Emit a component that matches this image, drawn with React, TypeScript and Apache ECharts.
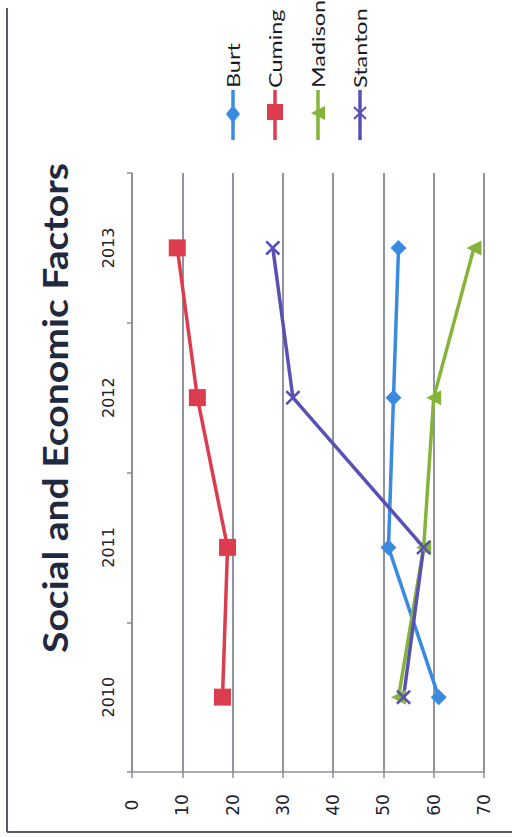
import React, { useEffect, useRef } from "react";
import * as echarts from "echarts";

const title = "Social and Economic Factors";
const categories = ["2010", "2011", "2012", "2013"];
const seriesNames = ["Burt", "Cuming", "Madison", "Stanton"];
const burt = [61, 51, 52, 53];
const cuming = [18, 19, 13, 9];
const madison = [53, 58, 60, 68];
const stanton = [54, 58, 32, 28];
const seriesValues = [burt, cuming, madison, stanton];
const colors = ["#3a8be0", "#dc3d4e", "#86b43a", "#5850b5"];

const xPath =
  "path://M0,1.2 L1.2,0 L5,3.8 L8.8,0 L10,1.2 L6.2,5 L10,8.8 L8.8,10 L5,6.2 L1.2,10 L0,8.8 L3.8,5 Z";
const symbols = ["diamond", "rect", "triangle", xPath];
const symbolSizes = [16, 17, 15, 15];
const symbolRotates = [0, 0, 90, 0];

export default function App() {
  const ref = useRef<HTMLDivElement>(null);
  useEffect(() => {
    if (!ref.current) return;
    const chart = echarts.init(ref.current, null, { renderer: "svg" });
    const legendX = [233, 275, 318, 360];
    const legendGraphics: any[] = [];
    seriesNames.forEach((name, i) => {
      legendGraphics.push({
        type: "line",
        shape: { x1: legendX[i], y1: 90, x2: legendX[i], y2: 140 },
        style: { stroke: colors[i], lineWidth: 3.5 },
      });
      legendGraphics.push({
        type: "text",
        x: legendX[i],
        y: 88,
        rotation: Math.PI / 2,
        scaleX: 1.3,
        style: {
          text: name,
          font: '18px Lato',
          fill: "#1c1c28",
          align: "left",
          verticalAlign: "middle",
          textAlign: "left",
          textVerticalAlign: "middle",
        },
      });
    });
    const legendMarkers = [
      { type: "polygon", shape: { points: [[233, 105], [240, 114], [233, 123], [226, 114]] } },
      { type: "rect", shape: { x: 267, y: 104, width: 16, height: 16 } },
      { type: "polygon", shape: { points: [[311, 113], [325, 106], [325, 120]] } },
    ];
    legendMarkers.forEach((m: any, i) => {
      legendGraphics.push({ ...m, style: { fill: colors[i] } });
    });
    legendGraphics.push({
      type: "line",
      shape: { x1: 354, y1: 107, x2: 366, y2: 119 },
      style: { stroke: colors[3], lineWidth: 2 },
    });
    legendGraphics.push({
      type: "line",
      shape: { x1: 366, y1: 107, x2: 354, y2: 119 },
      style: { stroke: colors[3], lineWidth: 2 },
    });

    chart.setOption({
      animation: false,
      backgroundColor: "#ffffff",
      grid: { left: 132, right: 28, top: 173, bottom: 65 },
      xAxis: {
        type: "value",
        position: "bottom",
        min: 0,
        max: 70,
        interval: 10,
        axisLine: { show: true, lineStyle: { color: "#8a8f99", width: 1.5 } },
        axisTick: { show: true, length: 6, lineStyle: { color: "#8a8f99", width: 1.5 } },
        splitLine: { show: true, lineStyle: { color: "#6b7080", width: 1.5 } },
        axisLabel: {
          rotate: 90,
          margin: 33,
          align: "center",
          verticalAlign: "middle",
          fontFamily: "DejaVu Sans",
          fontSize: 17,
          color: "#22222e",
        },
      },
      yAxis: {
        type: "category",
        position: "left",
        data: categories,
        boundaryGap: true,
        axisLine: { show: true, lineStyle: { color: "#8a8f99", width: 1.5 } },
        axisTick: { show: true, length: 5, lineStyle: { color: "#8a8f99", width: 1.5 } },
        splitLine: { show: false },
        axisLabel: {
          rotate: 90,
          margin: 24,
          align: "center",
          verticalAlign: "middle",
          fontFamily: "DejaVu Sans",
          fontSize: 16,
          color: "#22222e",
        },
      },
      series: seriesNames.map((name, i) => ({
        name,
        type: "line",
        data: seriesValues[i].map((v, j) => [v, categories[j]]),
        symbol: symbols[i],
        symbolSize: symbolSizes[i],
        symbolRotate: symbolRotates[i],
        showSymbol: true,
        lineStyle: { color: colors[i], width: 3.5 },
        itemStyle: { color: colors[i] },
        z: 3,
      })),
      graphic: [
        {
          type: "line",
          shape: { x1: 7, y1: 8, x2: 7, y2: 832 },
          style: { stroke: "#555a66", lineWidth: 2 },
        },
        {
          type: "line",
          shape: { x1: 7, y1: 832, x2: 512, y2: 832 },
          style: { stroke: "#555a66", lineWidth: 2 },
        },
        {
          type: "text",
          x: 55,
          y: 408,
          rotation: Math.PI / 2,
          scaleX: 1.15,
          style: {
            text: title,
            font: 'bold 34px Lato',
            fill: "#1f2a40",
            align: "center",
            verticalAlign: "middle",
            textAlign: "center",
            textVerticalAlign: "middle",
          },
        },
        ...legendGraphics,
      ],
    });
    return () => chart.dispose();
  }, []);
  return (
    <div
      ref={ref}
      style={{ position: "absolute", left: 0, top: 0, width: 512, height: 837 }}
    />
  );
}
